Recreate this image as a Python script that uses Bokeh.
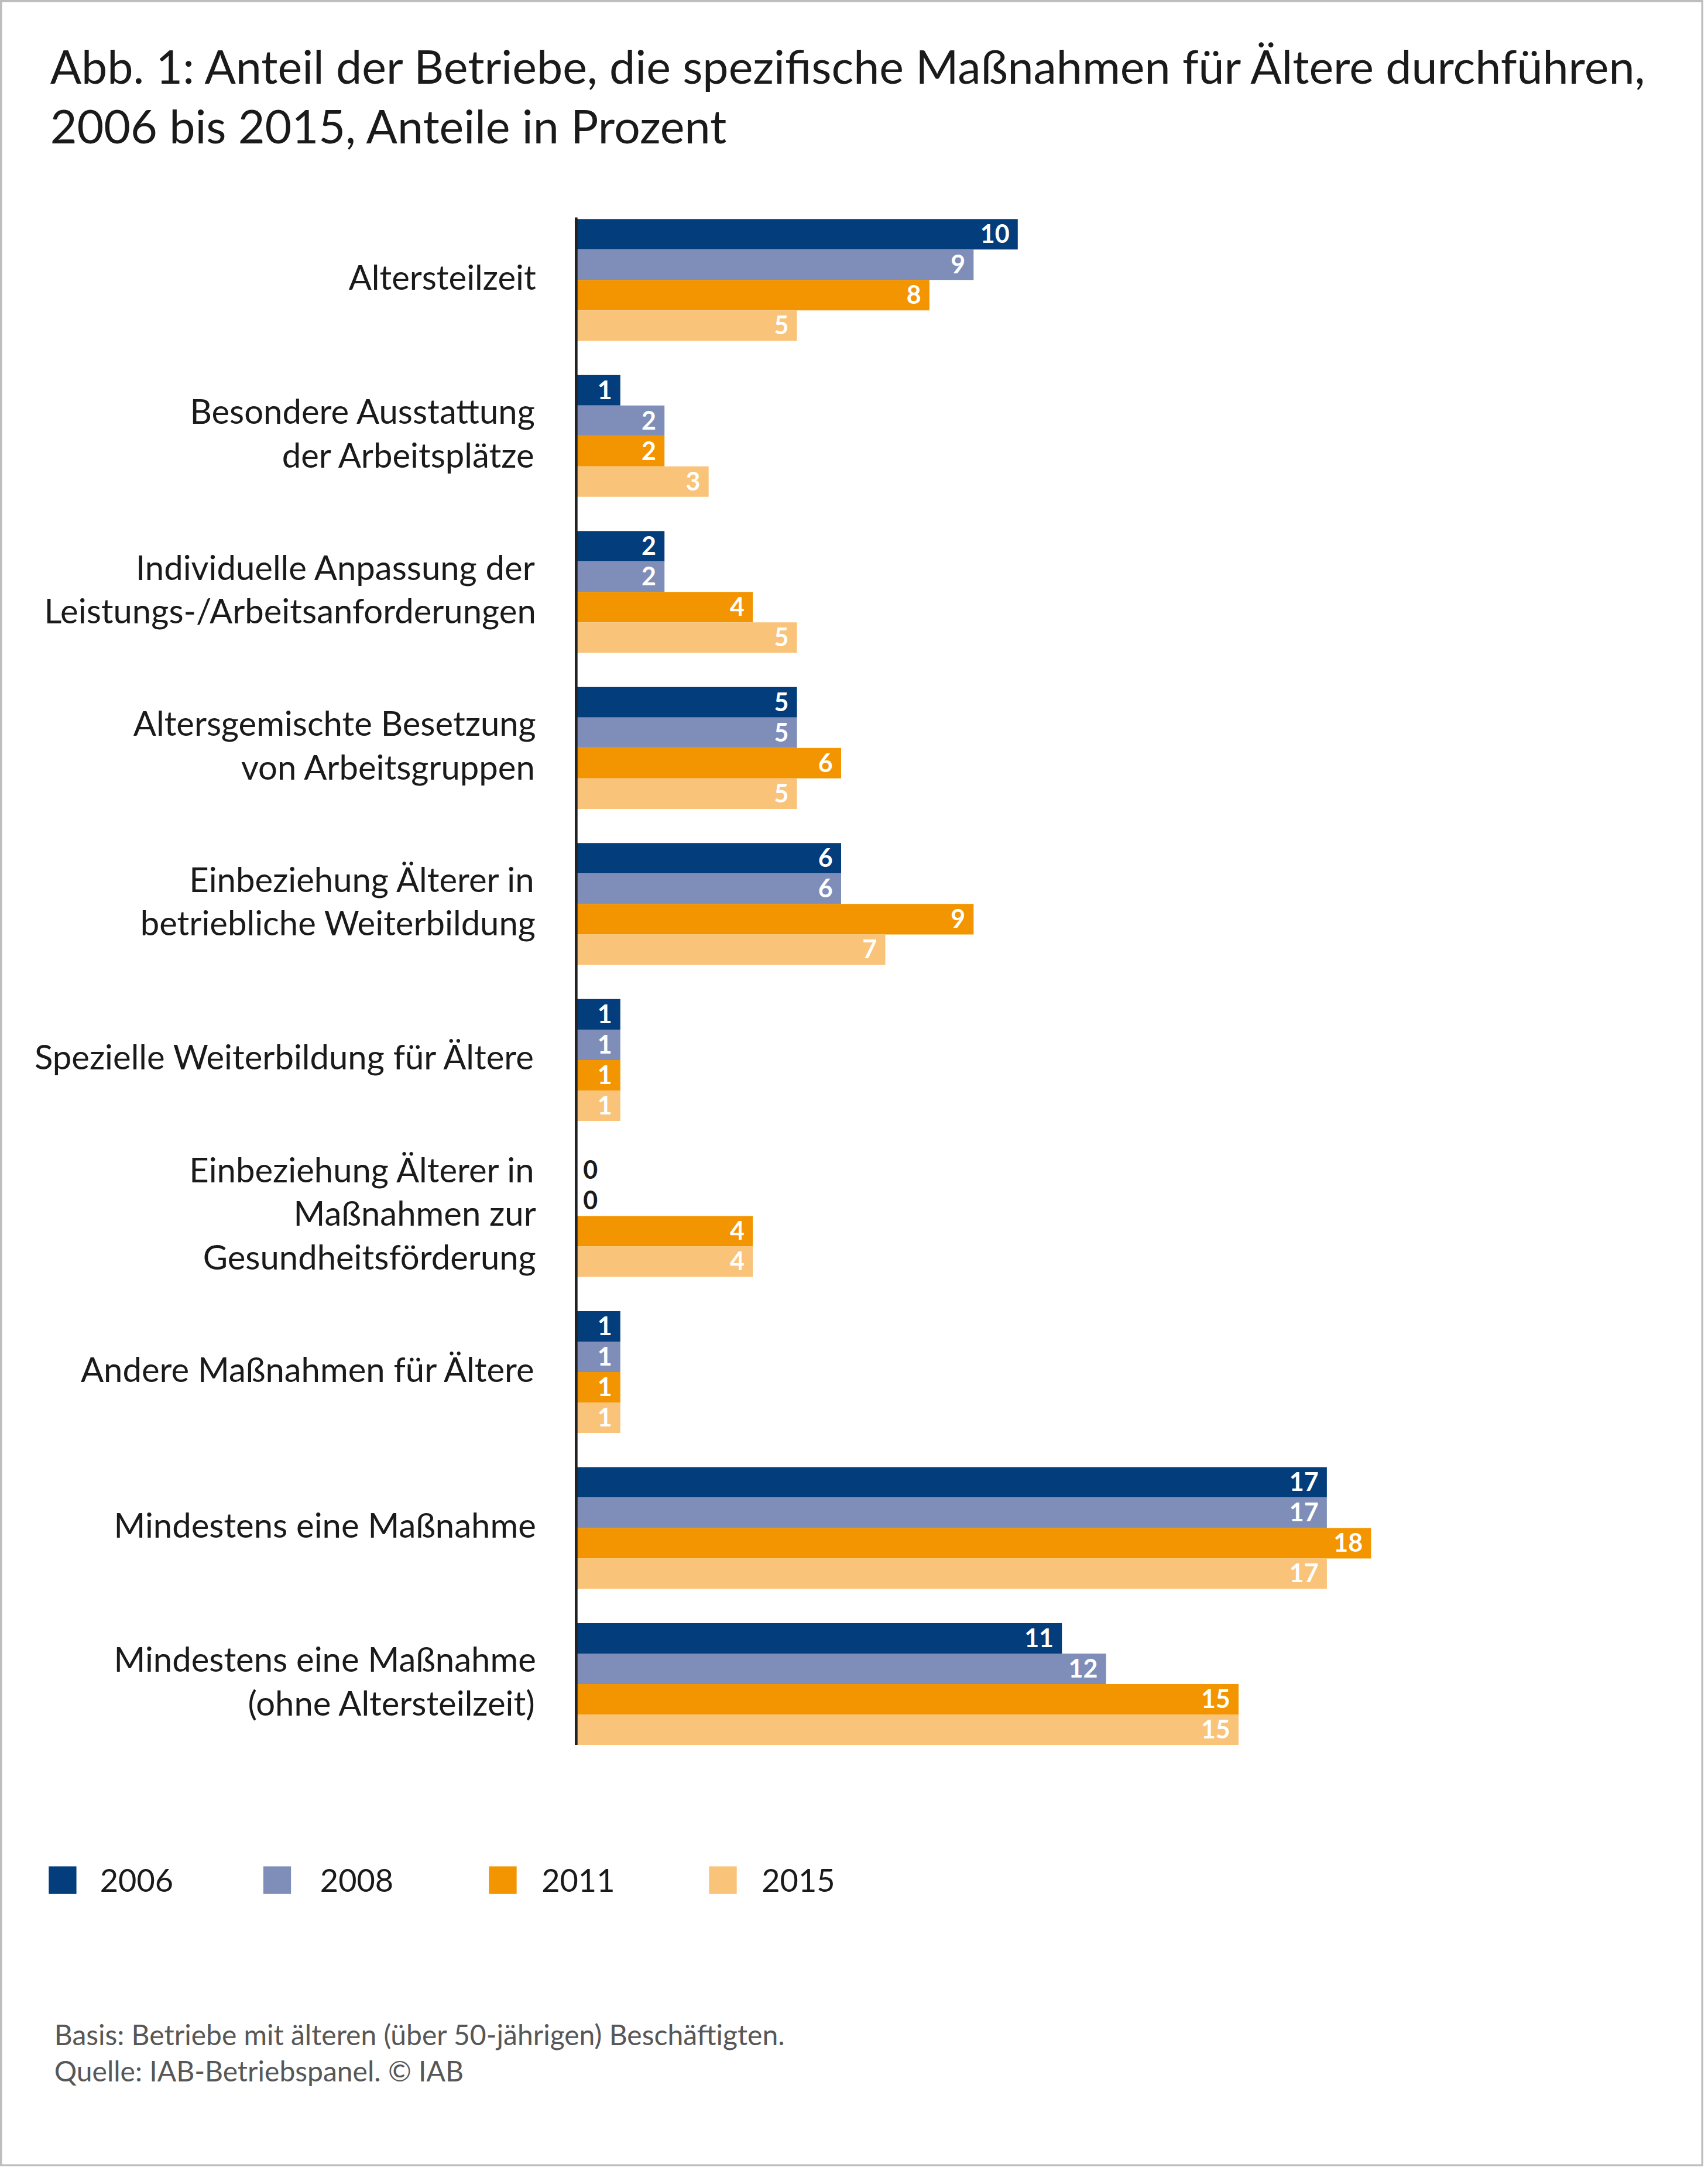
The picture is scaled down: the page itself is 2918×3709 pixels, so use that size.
from bokeh.plotting import figure
from bokeh.models import Range1d
from bokeh.core.properties import value
from bokeh.embed import file_html
from bokeh.resources import INLINE

# ---------------- data ----------------
categories = [
    "Altersteilzeit",
    "Besondere Ausstattung\nder Arbeitsplätze",
    "Individuelle Anpassung der\nLeistungs-/Arbeitsanforderungen",
    "Altersgemischte Besetzung\nvon Arbeitsgruppen",
    "Einbeziehung Älterer in\nbetriebliche Weiterbildung",
    "Spezielle Weiterbildung für Ältere",
    "Einbeziehung Älterer in\nMaßnahmen zur\nGesundheitsförderung",
    "Andere Maßnahmen für Ältere",
    "Mindestens eine Maßnahme",
    "Mindestens eine Maßnahme\n(ohne Altersteilzeit)",
]
years = ["2006", "2008", "2011", "2015"]
v2006 = [10, 1, 2, 5, 6, 1, 0, 1, 17, 11]
v2008 = [9, 2, 2, 5, 6, 1, 0, 1, 17, 12]
v2011 = [8, 2, 4, 6, 9, 1, 4, 1, 18, 15]
v2015 = [5, 3, 5, 5, 7, 1, 4, 1, 17, 15]
series = [v2006, v2008, v2011, v2015]
colors = ["#033d7c", "#7f8eb8", "#f29500", "#f9c379"]

title_lines = ["Abb. 1: Anteil der Betriebe, die spezifische Maßnahmen für Ältere durchführen,",
               "2006 bis 2015, Anteile in Prozent"]
footer_lines = ["Basis: Betriebe mit älteren (über 50-jährigen) Beschäftigten.",
                "Quelle: IAB-Betriebspanel. © IAB"]

# ---------------- geometry ----------------
W, H = 2910, 3701
S = 2.365          # window px per reference px
X0, UX = 416.0, 31.9     # reference x of zero, px per percent
Y0, UY = 202.0, 112.7    # reference y of first group centre, px per group

def X(d):
    return (d - X0) / UX

def Y(d):
    return (d - Y0) / UY

def fs(d):
    return f"{round(d * S)}px"

FONT = "Lato"

p = figure(width=W, height=H, output_backend="svg", toolbar_location=None,
           x_range=Range1d(X(0), X(W / S)),
           y_range=Range1d(Y(H / S), Y(0)),
           min_border=0)
p.axis.visible = False
p.grid.visible = False
p.outline_line_color = "#bdbdbd"
p.outline_line_width = 6
p.background_fill_color = "white"
p.border_fill_color = "white"

bh = 22.0 / UY
n = len(categories)
for k, (vals, col) in enumerate(zip(series, colors)):
    ys = [i + (k - 1.5) * bh for i in range(n)]
    p.hbar(y=ys, left=0, right=vals, height=bh, color=col, line_color=None)
    in_x, in_y, in_t = [], [], []
    z_x, z_y, z_t = [], [], []
    for y, v in zip(ys, vals):
        if v > 0:
            in_x.append(v - 6 / UX); in_y.append(y - 0.5 / UY); in_t.append(str(v))
        else:
            z_x.append(5 / UX); z_y.append(y - 0.5 / UY); z_t.append(str(v))
    p.text(x=in_x, y=in_y, text=in_t, text_align="right", text_baseline="middle",
           text_color="white", text_font=value(FONT), text_font_style="bold",
           text_font_size=fs(18))
    if z_t:
        p.text(x=z_x, y=z_y, text=z_t, text_align="left", text_baseline="middle",
               text_color="#1a1a1a", text_font=value(FONT), text_font_style="bold",
               text_font_size=fs(18))

# axis line at zero
p.segment(x0=[0], y0=[-2 * bh - 0.01], x1=[0], y1=[n - 1 + 2 * bh], line_color="#222222",
          line_width=2 * S)

# category labels
lx, ly, lt = [], [], []
for i, c in enumerate(categories):
    lines = c.split("\n")
    m = len(lines)
    for j, ln in enumerate(lines):
        lx.append(X(387))
        ly.append(i + ((j - (m - 1) / 2) * 31.5 - 2.5) / UY)
        lt.append(ln)
p.text(x=lx, y=ly, text=lt, text_align="right", text_baseline="middle",
       text_color="#1a1a1a", text_font=value(FONT), text_font_size=fs(24.6))

# title
p.text(x=[X(36)] * 2, y=[Y(47.5), Y(90.5)], text=title_lines, text_align="left",
       text_baseline="middle", text_color="#1a1a1a", text_font=value(FONT),
       text_font_size=fs(33.3))

# legend
sq_x = [45, 200, 363, 522]
lab_x = [72, 231, 391, 550]
for sx, lxx, col, yr in zip(sq_x, lab_x, colors, years):
    p.rect(x=[X(sx)], y=[Y(1358)], width=20 / UX, height=20 / UY, color=col, line_color=None)
    p.text(x=[X(lxx)], y=[Y(1358)], text=[yr], text_align="left", text_baseline="middle",
           text_color="#1a1a1a", text_font=value(FONT), text_font_size=fs(23))

# footer
p.text(x=[X(39)] * 2, y=[Y(1469.5), Y(1495.5)], text=footer_lines, text_align="left",
       text_baseline="middle", text_color="#575757", text_font=value(FONT),
       text_font_size=fs(20.2))

open("out.html", "w").write(file_html(p, INLINE))
